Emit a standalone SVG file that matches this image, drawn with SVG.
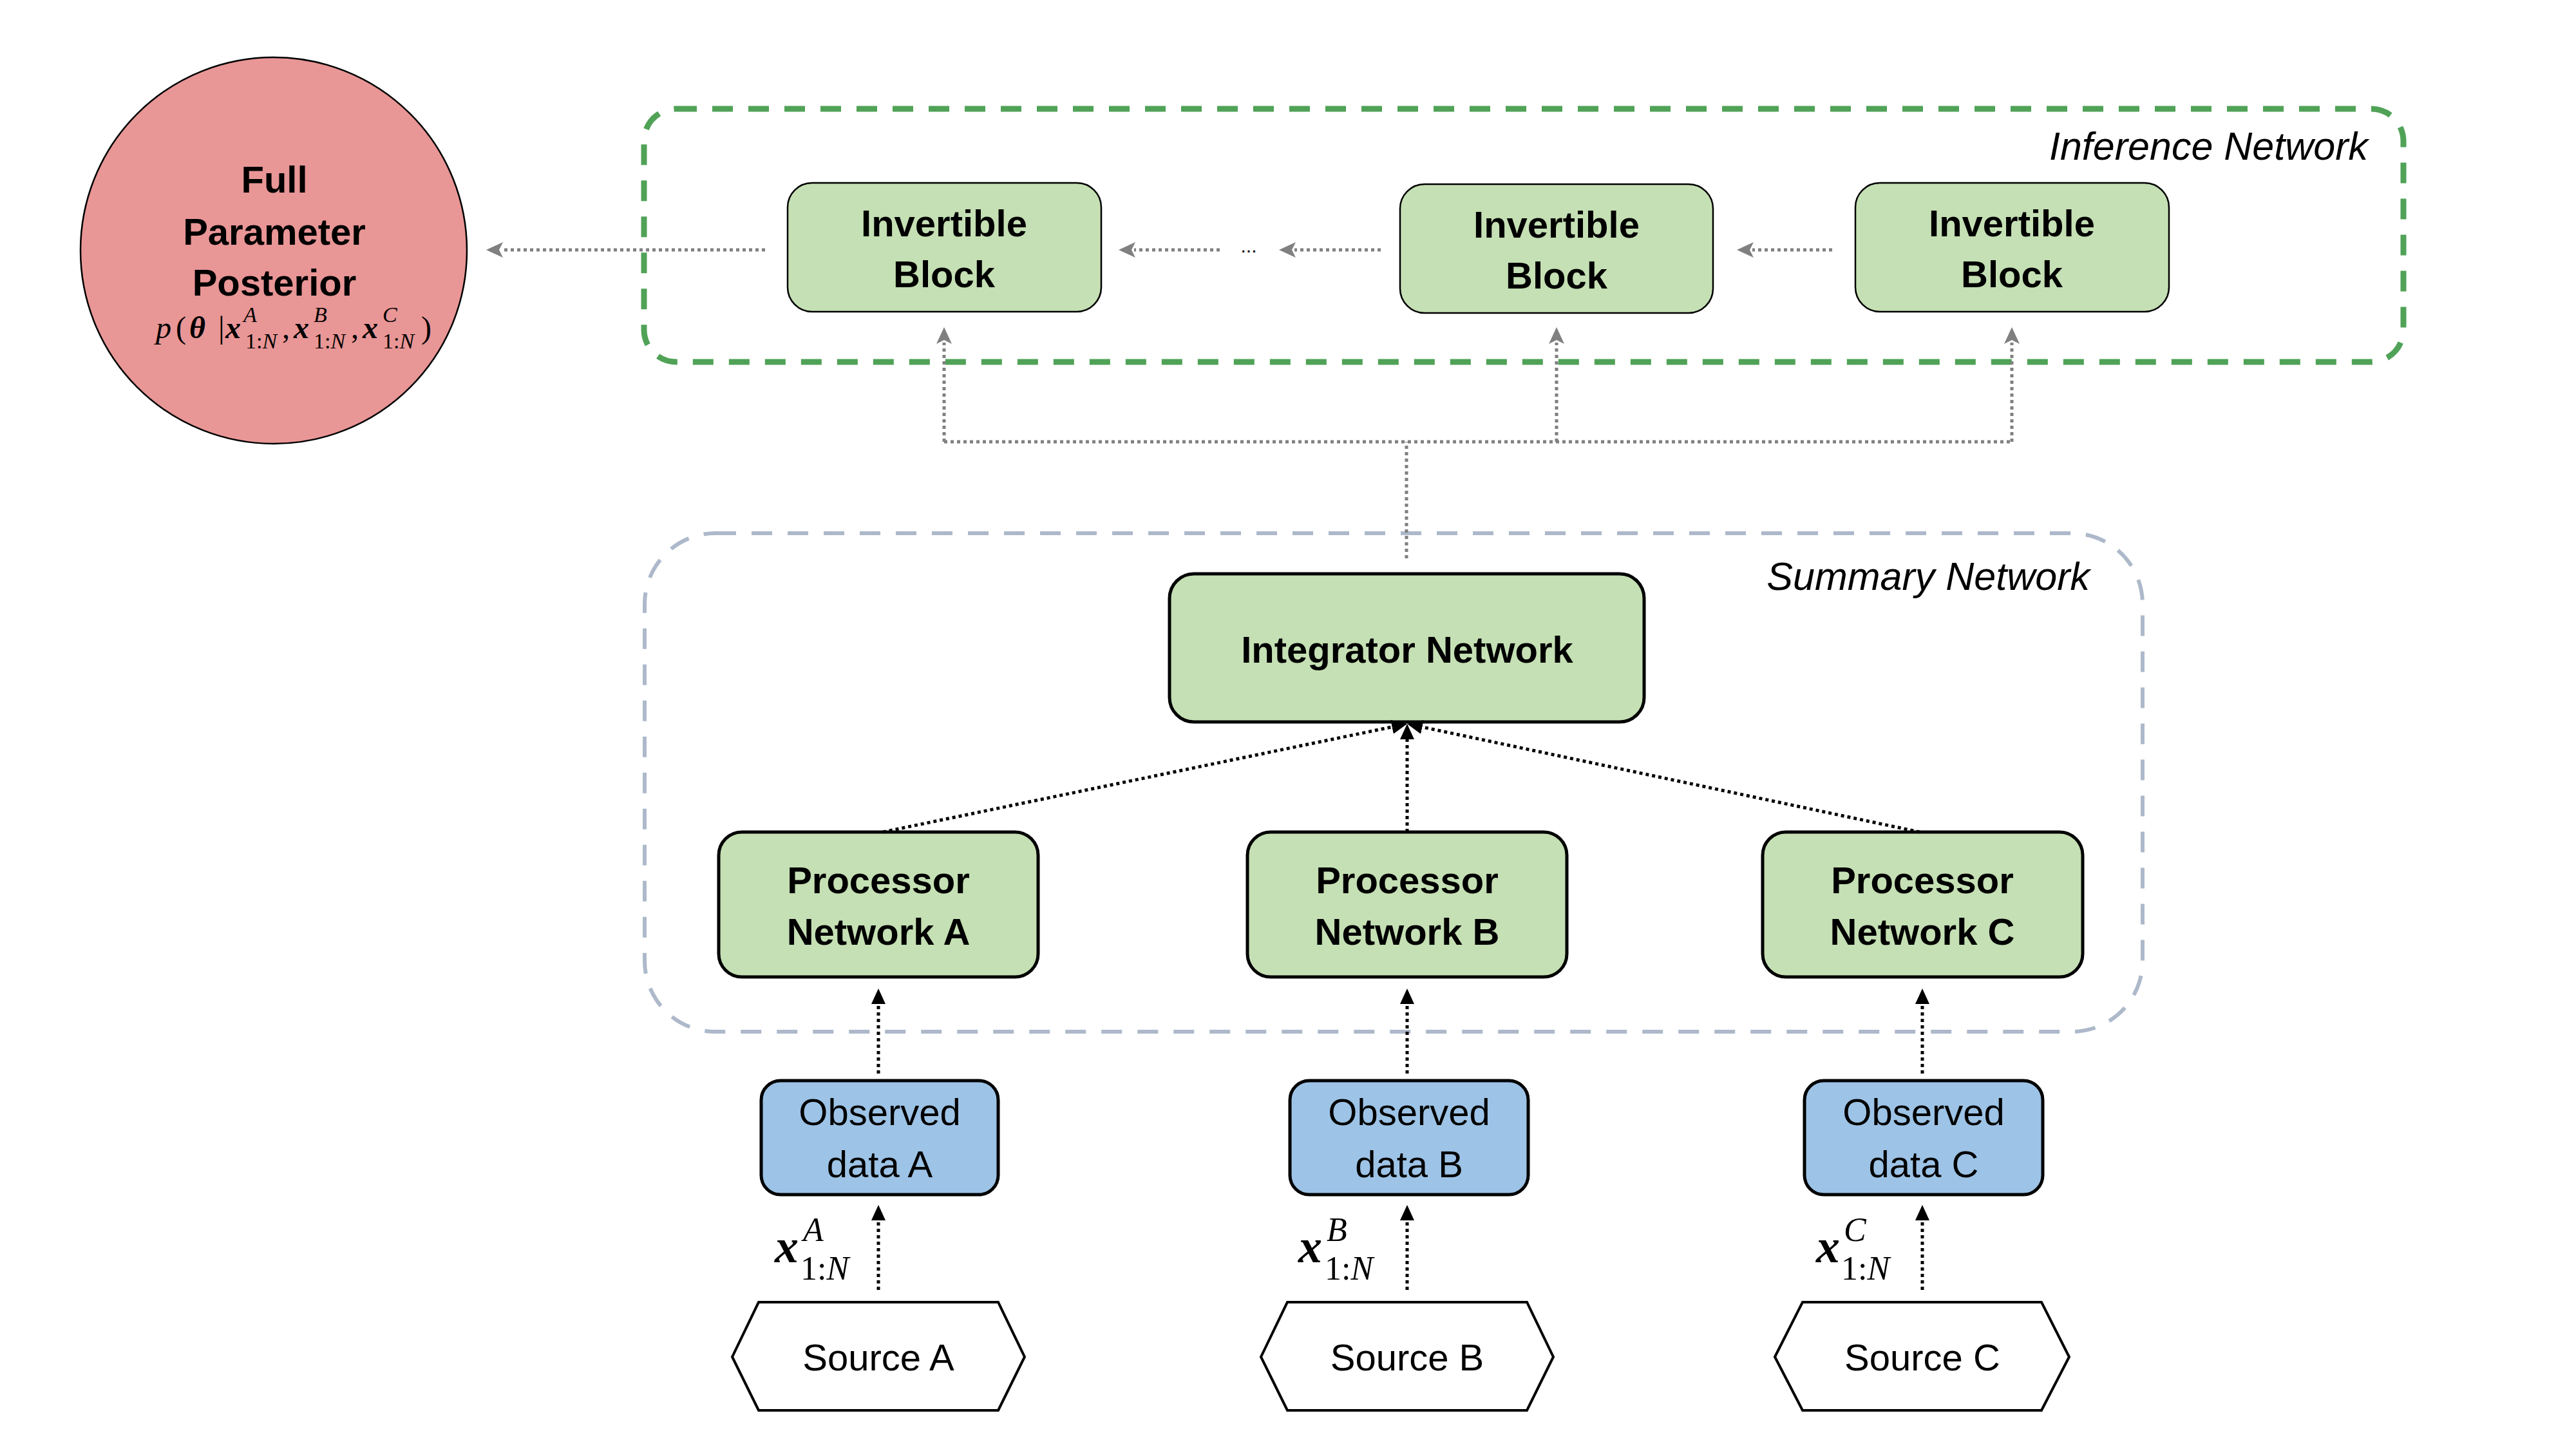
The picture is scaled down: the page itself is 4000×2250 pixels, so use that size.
<svg xmlns="http://www.w3.org/2000/svg" width="4000" height="2250" viewBox="0 0 4000 2250">
<defs>
<style>
.t{font-family:"Liberation Sans",Arial,sans-serif;fill:#000;text-anchor:middle}
.b{font-weight:bold;font-size:58px}
.r{font-size:58px}
.i{font-style:italic;font-size:61px;text-anchor:end}
.m{font-family:"Liberation Serif","Times New Roman",serif;font-style:italic;fill:#000}
.green{fill:#c5e0b4;stroke:#000}
.blue{fill:#9dc3e6;stroke:#000;stroke-width:5}
.hex{fill:#fff;stroke:#000;stroke-width:4}
.gc{fill:none;stroke:#808080;stroke-width:5;stroke-dasharray:5 5}
.bc{fill:none;stroke:#000;stroke-width:5;stroke-dasharray:5 5}
</style>
<marker id="ag" markerUnits="userSpaceOnUse" markerWidth="26" markerHeight="24" viewBox="0 0 26 24" refX="2" refY="12" orient="auto">
<path d="M0,0 L26,12 L0,24 L6,12 z" fill="#808080"/>
</marker>
<marker id="ab" markerUnits="userSpaceOnUse" markerWidth="24" markerHeight="22" viewBox="0 0 24 22" refX="2" refY="11" orient="auto">
<path d="M0,0 L24,11 L0,22 z" fill="#000"/>
</marker>
</defs>
<rect width="4000" height="2250" fill="#fff"/>

<g id="inference-network">
<rect x="1000" y="169" width="2732" height="393" rx="50" fill="none" stroke="#50a257" stroke-width="9" stroke-dasharray="32 24"/>
<text class="t i" x="3677" y="248">Inference Network</text>
</g>
<g id="summary-network">
<rect x="1001" y="828" width="2326" height="774" rx="110" fill="none" stroke="#adb9ca" stroke-width="6" stroke-dasharray="32 24"/>
<text class="t i" x="3245" y="916">Summary Network</text>
</g>

<g id="posterior">
<circle cx="425" cy="389" r="300" fill="#e99696" stroke="#000" stroke-width="2.5"/>
<text class="t b" x="426" y="299">Full</text>
<text class="t b" x="426" y="380">Parameter</text>
<text class="t b" x="426" y="459">Posterior</text>
<text class="m" font-size="48"><tspan x="242" y="525">p</tspan><tspan x="273" y="525" font-style="normal">(</tspan><tspan x="294" y="525" font-weight="bold">θ</tspan><tspan x="339" y="525" font-style="normal">|</tspan><tspan x="350" y="525" font-weight="bold">x</tspan><tspan x="378" y="500" font-size="34">A</tspan><tspan x="381" y="541" font-size="34" font-style="normal">1:</tspan><tspan font-size="34" y="541">N</tspan><tspan x="438" y="525" font-style="normal">,</tspan><tspan x="456" y="525" font-weight="bold">x</tspan><tspan x="487" y="500" font-size="34">B</tspan><tspan x="487" y="541" font-size="34" font-style="normal">1:</tspan><tspan font-size="34" y="541">N</tspan><tspan x="545" y="525" font-style="normal">,</tspan><tspan x="563" y="525" font-weight="bold">x</tspan><tspan x="594" y="500" font-size="34">C</tspan><tspan x="594" y="541" font-size="34" font-style="normal">1:</tspan><tspan font-size="34" y="541">N</tspan><tspan x="654" y="525" font-style="normal">)</tspan></text>
</g>

<g id="invertible-block-1">
<rect class="green" x="1223" y="284" width="487" height="200" rx="38" stroke-width="2.5"/>
<text class="t b" x="1466" y="367">Invertible</text>
<text class="t b" x="1466" y="446">Block</text>
</g>
<g id="invertible-block-2">
<rect class="green" x="2174" y="286" width="486" height="200" rx="38" stroke-width="2.5"/>
<text class="t b" x="2417" y="369">Invertible</text>
<text class="t b" x="2417" y="448">Block</text>
</g>
<g id="invertible-block-3">
<rect class="green" x="2881" y="284" width="487" height="200" rx="38" stroke-width="2.5"/>
<text class="t b" x="3124" y="367">Invertible</text>
<text class="t b" x="3124" y="446">Block</text>
</g>
<g id="ellipsis">
<text class="t" x="1939" y="392" font-size="30">...</text>
</g>

<g id="integrator-network">
<rect class="green" x="1816" y="891" width="737" height="230" rx="38" stroke-width="5"/>
<text class="t b" x="2185" y="1029">Integrator Network</text>
</g>

<g id="processor-a">
<rect class="green" x="1116" y="1292" width="496" height="225" rx="36" stroke-width="5"/>
<text class="t b" x="1364" y="1387">Processor</text>
<text class="t b" x="1364" y="1467">Network A</text>
</g>
<g id="processor-b">
<rect class="green" x="1937" y="1292" width="496" height="225" rx="36" stroke-width="5"/>
<text class="t b" x="2185" y="1387">Processor</text>
<text class="t b" x="2185" y="1467">Network B</text>
</g>
<g id="processor-c">
<rect class="green" x="2737" y="1292" width="497" height="225" rx="36" stroke-width="5"/>
<text class="t b" x="2985" y="1387">Processor</text>
<text class="t b" x="2985" y="1467">Network C</text>
</g>

<g id="observed-a">
<rect class="blue" x="1182" y="1678" width="368" height="177" rx="30"/>
<text class="t r" x="1366" y="1747">Observed</text>
<text class="t r" x="1366" y="1828">data A</text>
</g>
<g id="observed-b">
<rect class="blue" x="2003" y="1678" width="370" height="177" rx="30"/>
<text class="t r" x="2188" y="1747">Observed</text>
<text class="t r" x="2188" y="1828">data B</text>
</g>
<g id="observed-c">
<rect class="blue" x="2802" y="1678" width="370" height="177" rx="30"/>
<text class="t r" x="2987" y="1747">Observed</text>
<text class="t r" x="2987" y="1828">data C</text>
</g>

<g id="source-a">
<polygon class="hex" points="1137,2107 1178,2022 1550,2022 1591,2107 1550,2190 1178,2190"/>
<text class="t r" x="1364" y="2128">Source A</text>
</g>
<g id="source-b">
<polygon class="hex" points="1958,2107 1999,2022 2371,2022 2412,2107 2371,2190 1999,2190"/>
<text class="t r" x="2185" y="2128">Source B</text>
</g>
<g id="source-c">
<polygon class="hex" points="2756,2107 2799,2022 3170,2022 3213,2107 3170,2190 2799,2190"/>
<text class="t r" x="2985" y="2128">Source C</text>
</g>

<g id="connectors">
<path class="gc" d="M1188,388 H779" marker-end="url(#ag)"/>
<path class="gc" d="M1894,388 H1761" marker-end="url(#ag)"/>
<path class="gc" d="M2144,388 H2010" marker-end="url(#ag)"/>
<path class="gc" d="M2845,388 H2721" marker-end="url(#ag)"/>
<path class="gc" d="M1466,686 H3124"/>
<path class="gc" d="M2184,867 V686"/>
<path class="gc" d="M1466,686 V532" marker-end="url(#ag)"/>
<path class="gc" d="M2417,686 V532" marker-end="url(#ag)"/>
<path class="gc" d="M3124,686 V532" marker-end="url(#ag)"/>

<path class="bc" d="M1371,1292 L2163.5,1128.4" marker-end="url(#ab)"/>
<path class="bc" d="M2185,1292 V1146" marker-end="url(#ab)"/>
<path class="bc" d="M2981,1292 L2206.5,1128.5" marker-end="url(#ab)"/>

<path class="bc" d="M1364,1667 V1557" marker-end="url(#ab)"/>
<path class="bc" d="M2185,1667 V1557" marker-end="url(#ab)"/>
<path class="bc" d="M2985,1667 V1557" marker-end="url(#ab)"/>

<path class="bc" d="M1364,2003 V1893" marker-end="url(#ab)"/>
<path class="bc" d="M2185,2003 V1893" marker-end="url(#ab)"/>
<path class="bc" d="M2985,2003 V1893" marker-end="url(#ab)"/>
</g>

<g id="label-a">
<text class="m" font-size="74"><tspan x="1203" y="1960" font-weight="bold">x</tspan><tspan x="1247" y="1927" font-size="52">A</tspan><tspan x="1243" y="1987" font-size="52" font-style="normal">1:</tspan><tspan font-size="52" y="1987">N</tspan></text>
</g>
<g id="label-b">
<text class="m" font-size="74"><tspan x="2016" y="1960" font-weight="bold">x</tspan><tspan x="2060" y="1927" font-size="52">B</tspan><tspan x="2057" y="1987" font-size="52" font-style="normal">1:</tspan><tspan font-size="52" y="1987">N</tspan></text>
</g>
<g id="label-c">
<text class="m" font-size="74"><tspan x="2820" y="1960" font-weight="bold">x</tspan><tspan x="2863" y="1927" font-size="52">C</tspan><tspan x="2859" y="1987" font-size="52" font-style="normal">1:</tspan><tspan font-size="52" y="1987">N</tspan></text>
</g>
</svg>
